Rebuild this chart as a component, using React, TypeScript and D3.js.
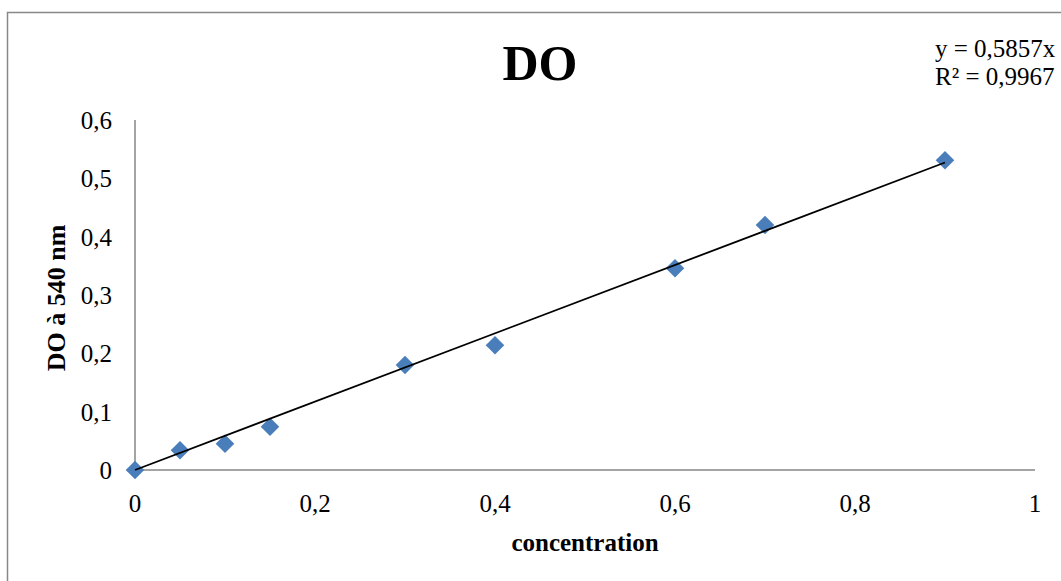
import React from "react";
import * as d3 from "d3";

const concentrations = [0, 0.05, 0.1, 0.15, 0.3, 0.4, 0.6, 0.7, 0.9];
const absorbances = [0, 0.034, 0.045, 0.074, 0.18, 0.214, 0.346, 0.42, 0.531];
const xTicks = [0, 0.2, 0.4, 0.6, 0.8, 1];
const yTicks = [0, 0.1, 0.2, 0.3, 0.4, 0.5, 0.6];
const slope = 0.5857;
const equationLines = ["y = 0,5857x", "R² = 0,9967"];

const fmt = (v: number) => String(v).replace(".", ",");

export default function App() {
  const W = 1061, H = 581;
  const x = d3.scaleLinear().domain([0, 1]).range([135, 1035]);
  const y = d3.scaleLinear().domain([0, 0.6]).range([470, 120]);
  const font = "'Liberation Serif', 'Times New Roman', serif";
  const xMax = d3.max(concentrations) as number;
  const line = d3.line<number>().x((d) => x(d)).y((d) => y(slope * d));
  const diamond = d3.symbol().type(d3.symbolDiamond2).size(220)();

  return (
    <svg width={W} height={H} style={{ position: "absolute", left: 0, top: 0, background: "#fff" }} fontFamily={font}>
      <rect x={7.5} y={12.5} width={1100} height={600} fill="#fff" stroke="#888" strokeWidth={1.5} />
      <text x={540} y={80} textAnchor="middle" fontSize={50} fontWeight="bold">DO</text>
      {equationLines.map((t, i) => (
        <text key={i} x={935} y={57 + i * 28} fontSize={25}>{t}</text>
      ))}
      <line x1={x(0)} x2={x(0)} y1={y(0.6)} y2={y(0)} stroke="#868686" strokeWidth={1.5} />
      <line x1={x(0)} x2={x(1)} y1={y(0)} y2={y(0)} stroke="#868686" strokeWidth={1.5} />
      {yTicks.map((t) => (
        <text key={t} x={112} y={y(t) + 9} textAnchor="end" fontSize={25}>{fmt(t)}</text>
      ))}
      {xTicks.map((t) => (
        <text key={t} x={x(t)} y={512} textAnchor="middle" fontSize={25}>{fmt(t)}</text>
      ))}
      <text x={585} y={551} textAnchor="middle" fontSize={25} fontWeight="bold">concentration</text>
      <text transform={`translate(65,298) rotate(-90)`} textAnchor="middle" fontSize={26} fontWeight="bold">DO à 540 nm</text>
      {concentrations.map((c, i) => (
        <path key={i} d={diamond} transform={`translate(${x(c)},${y(absorbances[i])})`} fill="#4a7ebb" />
      ))}
      <path d={line([0, xMax]) as string} stroke="#000" strokeWidth={1.8} fill="none" />
    </svg>
  );
}
